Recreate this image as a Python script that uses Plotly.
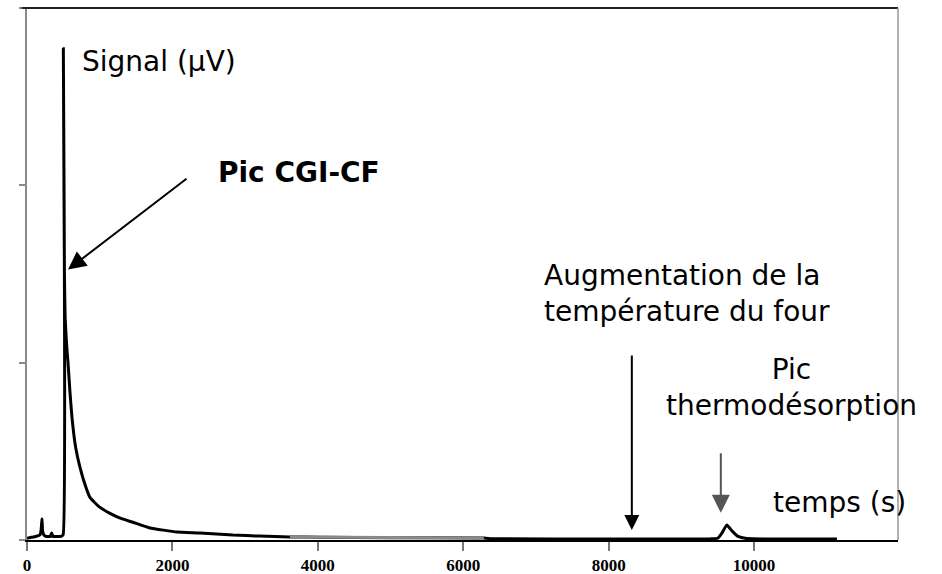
import plotly.graph_objects as go

# Time (s) and signal (arbitrary units, 1 unit = one y tick interval)
time_s = [0, 60, 120, 180, 195, 206, 215, 230, 260, 320, 340, 355, 400, 470, 497,
          500, 505, 515, 525, 545, 564, 590, 619, 670, 729, 800, 866, 1000, 1141,
          1300, 1458, 1691, 2063, 2379, 2833, 3200, 3616, 4029, 5000, 6284, 6400,
          8000, 9400, 9500, 9560, 9625, 9700, 9780, 9900, 10500, 11140]
signal = [0.01, 0.015, 0.02, 0.03, 0.06, 0.12, 0.05, 0.03, 0.02, 0.02, 0.04, 0.02,
          0.02, 0.02, 0.03,
          2.77, 2.3, 1.5, 1.25, 1.1, 1.0, 0.84, 0.69, 0.52, 0.41, 0.31, 0.24, 0.185,
          0.15, 0.12, 0.10, 0.068, 0.045, 0.04, 0.028, 0.022, 0.017, 0.016, 0.013,
          0.011, 0.007, 0.006, 0.007, 0.01, 0.04, 0.085, 0.05, 0.02, 0.008, 0.006,
          0.006]

x_tick_vals = [0, 2000, 4000, 6000, 8000, 10000]
x_tick_text = ["0", "2000", "4000", "6000", "8000", "10000"]
y_tick_vals = [0, 1, 2, 3]

# light segment of the trace (scan artefact in the original)
gray_start, gray_end = 3616, 6284

fig = go.Figure()
fig.add_trace(go.Scatter(x=time_s, y=signal, mode="lines",
                         line=dict(color="black", width=3, shape="spline",
                                   smoothing=0.4), hoverinfo="skip"))
gx = [t for t in time_s if gray_start <= t <= gray_end]
gy = [s for t, s in zip(time_s, signal) if gray_start <= t <= gray_end]
fig.add_trace(go.Scatter(x=gx, y=gy, mode="lines",
                         line=dict(color="#8a8a8a", width=3), hoverinfo="skip"))

txt_font = dict(family="DejaVu Sans", size=28, color="black")

annotations = [
    dict(x=729, y=2.70, xref="x", yref="y", text="Signal (\u03bcV)", showarrow=False,
         xanchor="left", yanchor="middle", font=txt_font),
    dict(x=3740, y=2.073, xref="x", yref="y", text="Pic CGI-CF", showarrow=False,
         xanchor="center", yanchor="middle",
         font=dict(family="DejaVu Sans", size=28, color="black", weight="bold")),
    dict(x=7081, y=1.39, xref="x", yref="y",
         text="Augmentation de la<br>température du four", showarrow=False,
         xanchor="left", yanchor="middle", align="left", font=txt_font),
    dict(x=10519, y=0.86, xref="x", yref="y", text="Pic<br>thermodésorption",
         showarrow=False, xanchor="center", yanchor="middle", align="center",
         font=txt_font),
    dict(x=11179, y=0.212, xref="x", yref="y", text="temps (s)", showarrow=False,
         xanchor="center", yanchor="middle", font=txt_font),
    # arrows
    dict(x=564, y=1.525, xref="x", yref="y", text="", showarrow=True,
         ax=120, ay=-92, arrowhead=2, arrowsize=1.8, arrowwidth=2,
         arrowcolor="black"),
    dict(x=8319, y=0.056, xref="x", yref="y", text="", showarrow=True,
         ax=0, ay=-176, arrowhead=2, arrowsize=1.5, arrowwidth=2,
         arrowcolor="black"),
    dict(x=9543, y=0.153, xref="x", yref="y", text="", showarrow=True,
         ax=0, ay=-61, arrowhead=2, arrowsize=1.8, arrowwidth=2,
         arrowcolor="#555555"),
]

fig.update_layout(
    width=942, height=574,
    margin=dict(l=27, r=44, t=8, b=34, autoexpand=False),
    paper_bgcolor="white", plot_bgcolor="white",
    showlegend=False,
    annotations=annotations,
    shapes=[
        dict(type="line", xref="paper", yref="paper", x0=-0.006, x1=1, y0=1, y1=1,
             line=dict(color="#222222", width=2)),
        dict(type="line", xref="paper", yref="paper", x0=1, x1=1, y0=0, y1=1,
             line=dict(color="#999999", width=1.5)),
    ],
)
fig.update_xaxes(range=[0, 11980], tickvals=x_tick_vals, ticktext=x_tick_text,
                 automargin=False,
                 showgrid=False, zeroline=False, showline=True, linecolor="black",
                 linewidth=2, ticks="outside", ticklen=9, tickwidth=2,
                 tickcolor="#777777",
                 tickfont=dict(family="Liberation Serif", size=17, color="black",
                               weight="bold"))
fig.update_yaxes(range=[0, 3], tickvals=y_tick_vals, showticklabels=False,
                 automargin=False,
                 showgrid=False, zeroline=False, showline=True, linecolor="#8a8a8a",
                 linewidth=2, ticks="outside", ticklen=6, tickwidth=1.5,
                 tickcolor="#8a8a8a")

fig.write_html("out.html")
